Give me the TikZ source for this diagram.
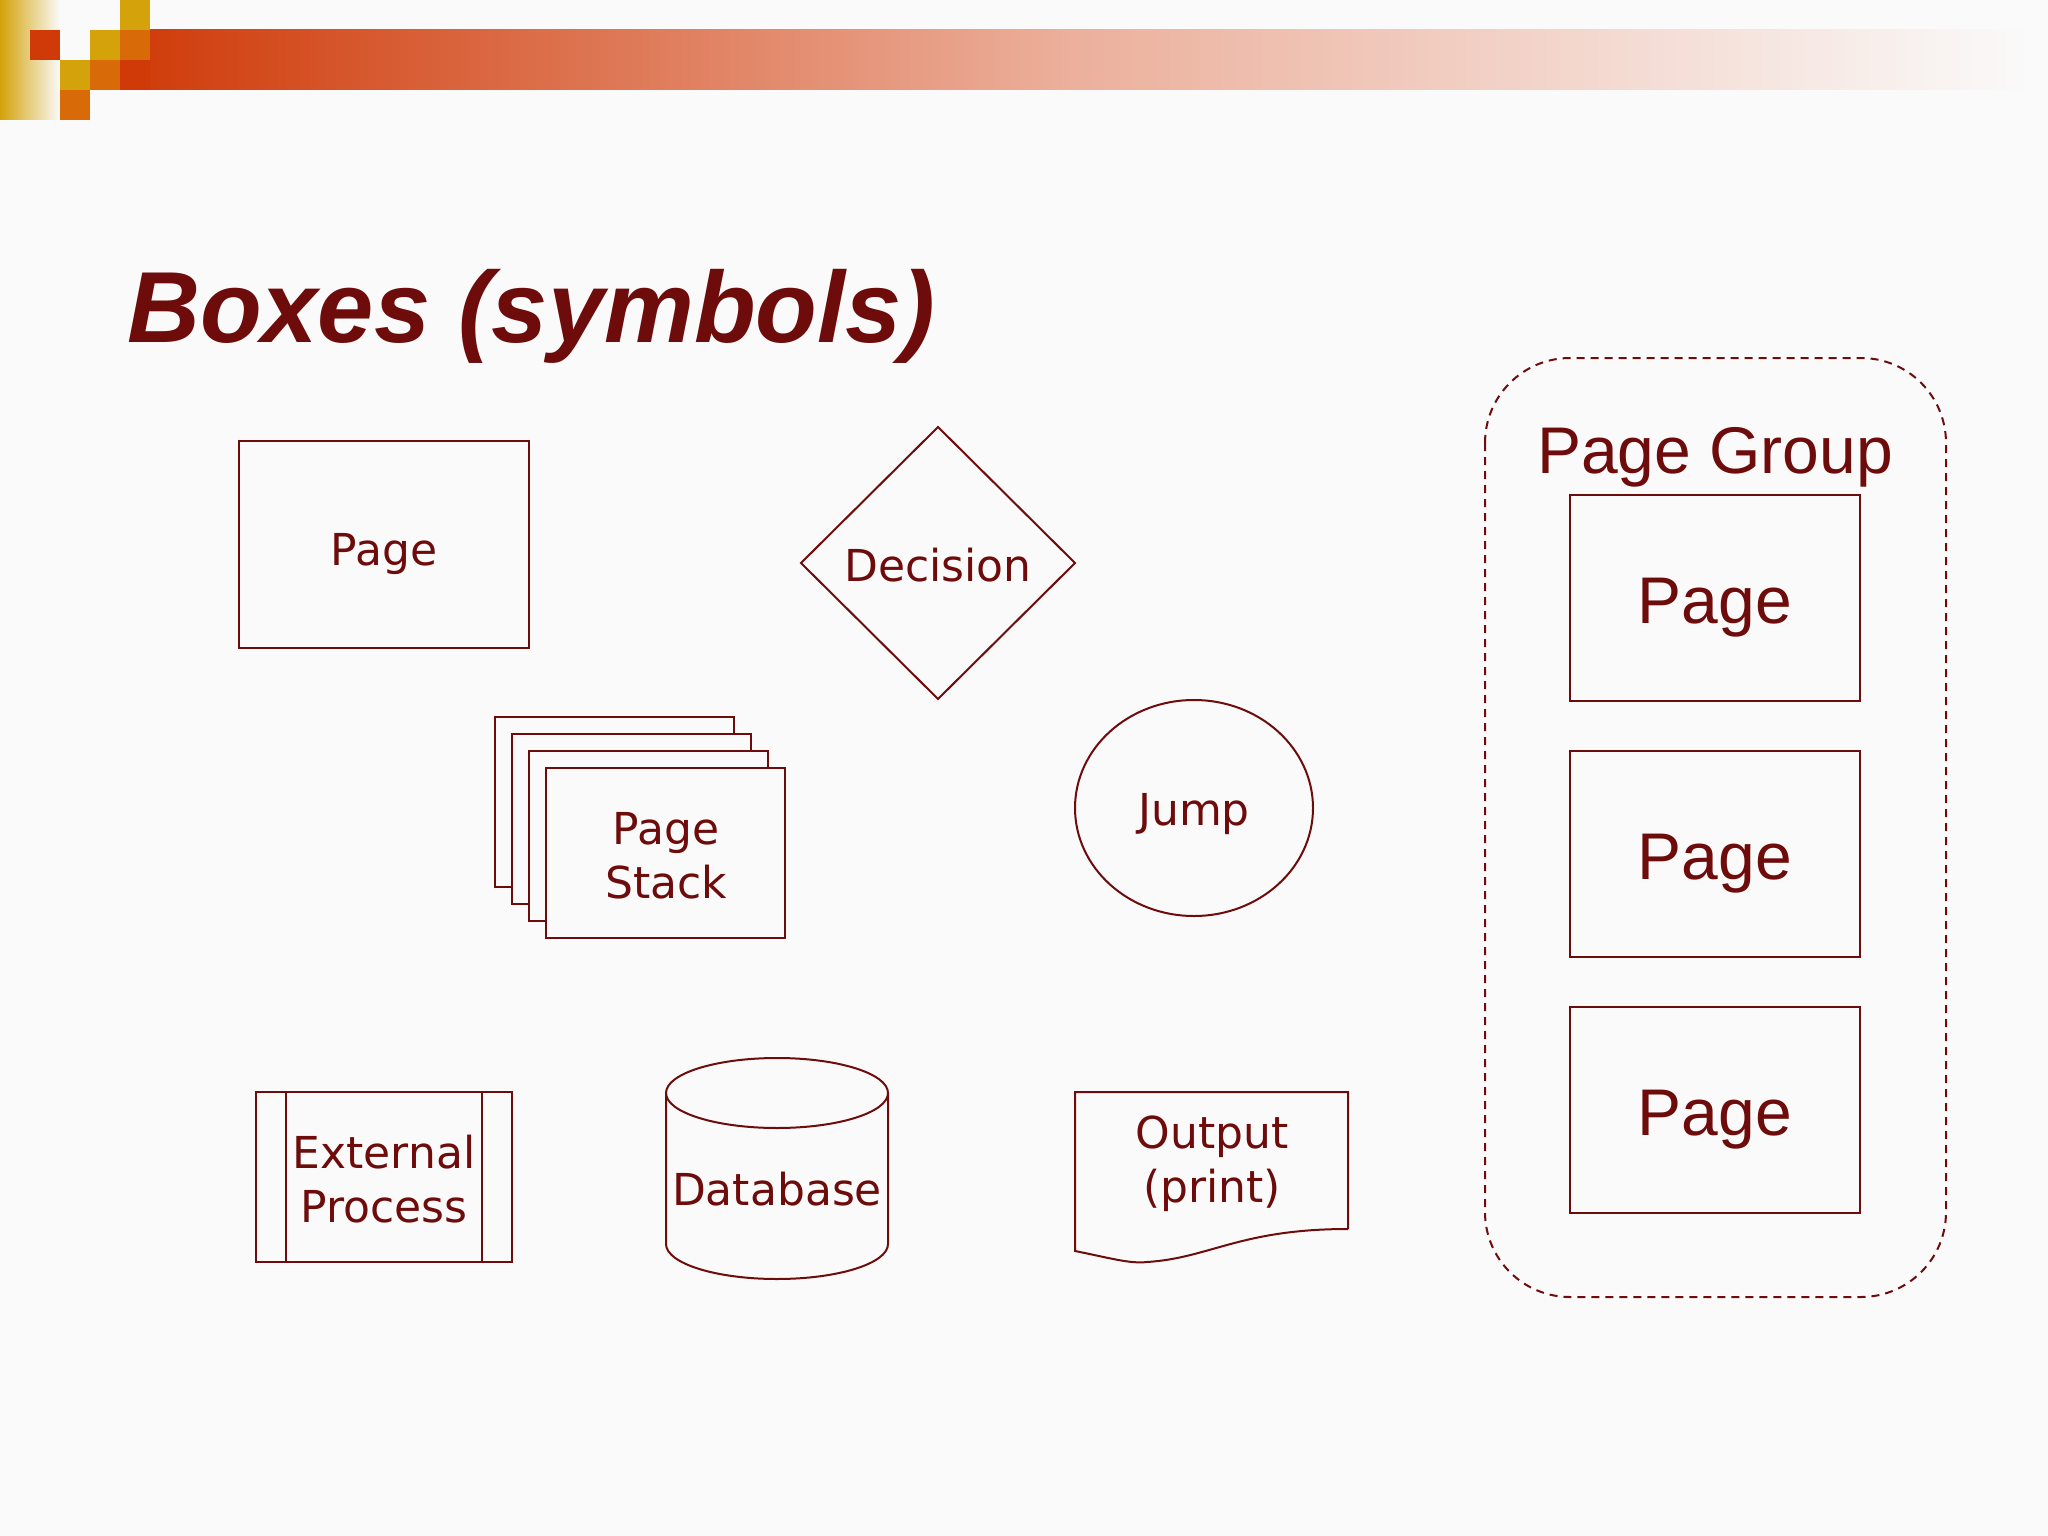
\documentclass[tikz,border=0pt]{standalone}
\usepackage{fontspec}
\setmainfont{DejaVu Sans}
\newfontfamily\arialf{Liberation Sans}
\usetikzlibrary{shapes.geometric}
\definecolor{dr}{HTML}{6E0B0B}
\definecolor{gold}{HTML}{D4A20A}
\definecolor{org}{HTML}{D86A08}
\definecolor{rd}{HTML}{CF3A08}
\tikzset{ln/.style={draw=dr,line width=2pt},
 sm/.style={text=dr,font=\fontsize{44}{50}\selectfont,align=center},
 big/.style={text=dr,font=\arialf\fontsize{66}{72}\selectfont}}
\begin{document}
\begin{tikzpicture}[x=1pt,y=-1pt]
\useasboundingbox (0,0) rectangle (2048,1536);
\fill[white!98!black] (0,0) rectangle (2048,1536);
% header
\shade[left color=rd,right color=white!98!black,middle color=rd!40!white] (120,30) rectangle (2030,90);
\shade[left color=gold,right color=white!98!black] (0,0) rectangle (60,120);
\fill[rd] (30,30) rectangle (60,60);
\fill[gold] (60,60) rectangle (90,90);
\fill[org] (60,90) rectangle (90,120);
\fill[gold] (90,30) rectangle (120,60);
\fill[org] (90,60) rectangle (120,90);
\fill[gold] (120,0) rectangle (150,30);
\fill[org] (120,30) rectangle (150,60);
\fill[rd] (120,60) rectangle (150,90);
\node[anchor=base west,text=dr,font=\arialf\bfseries\itshape\fontsize{101}{110}\selectfont,inner sep=0] (title) at (127,342) {Boxes (symbols)};
% page
\draw[ln] (239,441) rectangle (529,648);
\node[sm] (p1) at (384,554) {Page};
% decision
\draw[ln] (938,427) -- (1075,563) -- (938,699) -- (801,563) -- cycle;
\node[sm] (dec) at (938,565) {Decision};
% stack
\foreach \i in {0,1,2}{\draw[ln,fill=white!98!black] (495+17*\i,717+17*\i) rectangle (734+17*\i,887+17*\i);}
\draw[ln,fill=white!98!black] (546,768) rectangle (785,938);
\node[sm] (ps) at (666,856) {Page\\[4pt]Stack};
% jump
\draw[ln] (1194,808) ellipse [x radius=119,y radius=108];
\node[sm] (jump) at (1194,814) {Jump};
% external
\draw[ln] (256,1092) rectangle (512,1262);
\draw[ln] (286,1092) -- (286,1262);
\draw[ln] (482,1092) -- (482,1262);
\node[sm] (ext) at (384,1179) {External\\[4pt]Process};
% database
\draw[ln] (666,1093) -- (666,1244) arc[start angle=180,end angle=0,x radius=111,y radius=35] -- (888,1093);
\draw[ln] (777,1093) ellipse [x radius=111,y radius=35];
\node[sm] (db) at (777,1189) {Database};
% output
\draw[ln] (1348,1229) -- (1348,1092) -- (1075,1092) -- (1075,1251) .. controls (1110,1258) and (1130,1264) .. (1147,1262) .. controls (1210,1258) and (1240,1229) .. (1348,1229);
\node[sm] (out) at (1212,1164) {Output\\[4pt](print)};
% page group
\draw[dr,line width=2pt,dash pattern=on 8pt off 6pt,rounded corners=85] (1485,358) rectangle (1946,1297);
\node[big] (pg) at (1715,457) {Page Group};
\foreach \y/\n in {495/a,751/b,1007/c}{
 \draw[ln] (1570,\y) rectangle (1860,\y+206);
 \node[big] (g\n) at (1715,\y+113) {Page};}
\end{tikzpicture}
\end{document}
